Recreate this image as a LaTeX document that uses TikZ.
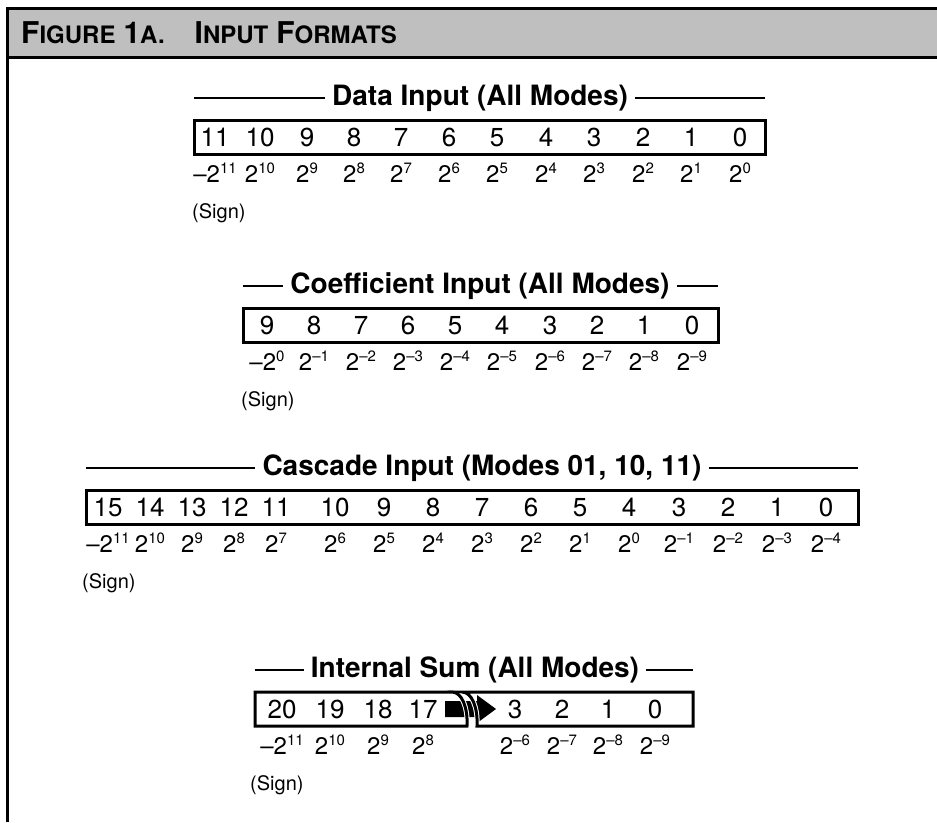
\documentclass[tikz,border=0pt]{standalone}
\usepackage{fontspec}
\setmainfont{TeX Gyre Heros}
\usetikzlibrary{calc}
\def\ptwo#1{2\raisebox{8.5pt}{\fontsize{15}{15}\selectfont #1}}
\def\bigsc#1#2{{\fontsize{30}{30}\selectfont #1}{\fontsize{24}{24}\selectfont #2}}
\tikzset{
  digit/.style={font=\fontsize{26}{26}\selectfont, inner sep=0pt, anchor=base},
  weight/.style={font=\fontsize{24}{24}\selectfont, inner sep=0pt, anchor=base},
  rowtitle/.style={font=\bfseries\fontsize{28}{28}\selectfont, inner sep=0pt},
  signlbl/.style={font=\fontsize{20}{20}\selectfont, inner sep=0pt, anchor=base west},
  bitbox/.style={line width=3pt},
  titlerule/.style={line width=1.4pt},
}

\begin{document}
\begin{tikzpicture}[x=1pt,y=-1pt]
	%%%%% START %%%%%
	\useasboundingbox (0,0) rectangle (937,822);
	
	% header band
	\fill[black!25] (7,8) rectangle (937,57);
	\draw[line width=3pt] (937,8) -- (7,8) -- (7,822);
	\draw[line width=3pt] (7,57) -- (937,57);
	\node[anchor=base west, inner sep=0pt, font=\bfseries] (figttl) at (21,43)
		{\bigsc{F}{IGURE}\hspace{8pt}\bigsc{1}{A.}\hspace{30pt}\bigsc{I}{NPUT}\hspace{8pt}\bigsc{F}{ORMATS}};
	
	% data input
	\node[rowtitle] (datattl) at (480,98) {Data Input (All Modes)};
	\coordinate (dataL) at (194,98);
	\coordinate (dataR) at (765,98);
	\draw[titlerule] (dataL) -- ([xshift=-7pt]datattl.west);
	\draw[titlerule] ([xshift=7pt]datattl.east) -- (dataR);
	\draw[bitbox] (194,120) rectangle (765,154);
	\foreach \x/\d/\w in {215/11/–\ptwo{11}, 260/10/\ptwo{10}, 307/9/\ptwo{9}, 354/8/\ptwo{8},
		401/7/\ptwo{7}, 449/6/\ptwo{6}, 497/5/\ptwo{5}, 546/4/\ptwo{4}, 594/3/\ptwo{3},
		643/2/\ptwo{2}, 691/1/\ptwo{1}, 740/0/\ptwo{0}}{
		\node[digit] (data\d) at (\x,146) {\d};
		\node[weight] (dataw\d) at (\x,182) {\w};
	}
	\node[signlbl] (datasign) at (192,218) {(Sign)};
	
	% coefficient input
	\node[rowtitle] (coefttl) at (480,286) {Coefficient Input (All Modes)};
	\coordinate (coefL) at (243,286);
	\coordinate (coefR) at (718,286);
	\draw[titlerule] (coefL) -- ([xshift=-7pt]coefttl.west);
	\draw[titlerule] ([xshift=7pt]coefttl.east) -- (coefR);
	\draw[bitbox] (243,308) rectangle (718,342);
	\foreach \x/\d/\w in {267/9/–\ptwo{0}, 314/8/\ptwo{–1}, 361/7/\ptwo{–2}, 408/6/\ptwo{–3},
		455/5/\ptwo{–4}, 502/4/\ptwo{–5}, 550/3/\ptwo{–6}, 597/2/\ptwo{–7}, 644/1/\ptwo{–8},
		692/0/\ptwo{–9}}{
		\node[digit] (coef\d) at (\x,334) {\d};
		\node[weight] (coefw\d) at (\x,370) {\w};
	}
	\node[signlbl] (coefsign) at (241,406) {(Sign)};
	
	% cascade input
	\node[rowtitle] (cascttl) at (482,468) {Cascade Input (Modes 01, 10, 11)};
	\coordinate (cascL) at (86,468);
	\coordinate (cascR) at (858,468);
	\draw[titlerule] (cascL) -- ([xshift=-7pt]cascttl.west);
	\draw[titlerule] ([xshift=7pt]cascttl.east) -- (cascR);
	\draw[bitbox] (86,490) rectangle (858,524);
	\foreach \x/\d/\w in {108/15/–\ptwo{11}, 150/14/\ptwo{10}, 192/13/\ptwo{9}, 234/12/\ptwo{8},
		276/11/\ptwo{7}, 335/10/\ptwo{6}, 384/9/\ptwo{5}, 433/8/\ptwo{4}, 482/7/\ptwo{3},
		531/6/\ptwo{2}, 580/5/\ptwo{1}, 629/4/\ptwo{0}, 679/3/\ptwo{–1}, 728/2/\ptwo{–2},
		777/1/\ptwo{–3}, 826/0/\ptwo{–4}}{
		\node[digit] (casc\d) at (\x,516) {\d};
		\node[weight] (cascw\d) at (\x,552) {\w};
	}
	\node[signlbl] (cascsign) at (82,588) {(Sign)};
	
	% internal sum
	\node[rowtitle] (sumttl) at (475,670) {Internal Sum (All Modes)};
	\coordinate (sumL) at (255,670);
	\coordinate (sumR) at (693,670);
	\draw[titlerule] (sumL) -- ([xshift=-7pt]sumttl.west);
	\draw[titlerule] ([xshift=7pt]sumttl.east) -- (sumR);
	\fill (445,701) -- (477,701) -- (477,695) -- (496,709) -- (477,723) -- (477,717) -- (445,717) -- cycle;
	\begin{scope}
		\clip (440,696) rectangle (490,722);
		\draw[white, line width=5pt] (452,692) .. controls (462,692) and (468,708) .. (467,726);
		\draw[white, line width=5pt] (462,692) .. controls (472,692) and (478,708) .. (477,726);
	\end{scope}
	\draw[bitbox] (467,726) -- (255,726) -- (255,692) -- (452,692) .. controls (462,692) and (468,708) .. (467,726) -- cycle;
	\draw[bitbox] (477,726) -- (693,726) -- (693,692) -- (462,692) .. controls (472,692) and (478,708) .. (477,726) -- cycle;
	\foreach \x/\d/\w in {282/20/–\ptwo{11}, 330/19/\ptwo{10}, 378/18/\ptwo{9}, 423/17/\ptwo{8},
		515/3/\ptwo{–6}, 562/2/\ptwo{–7}, 608/1/\ptwo{–8}, 655/0/\ptwo{–9}}{
		\node[digit] (sum\d) at (\x,718) {\d};
		\node[weight] (sumw\d) at (\x,754) {\w};
	}
	\node[signlbl] (sumsign) at (250,790) {(Sign)};
	
	%%%%% END %%%%%
\end{tikzpicture}
\end{document}
